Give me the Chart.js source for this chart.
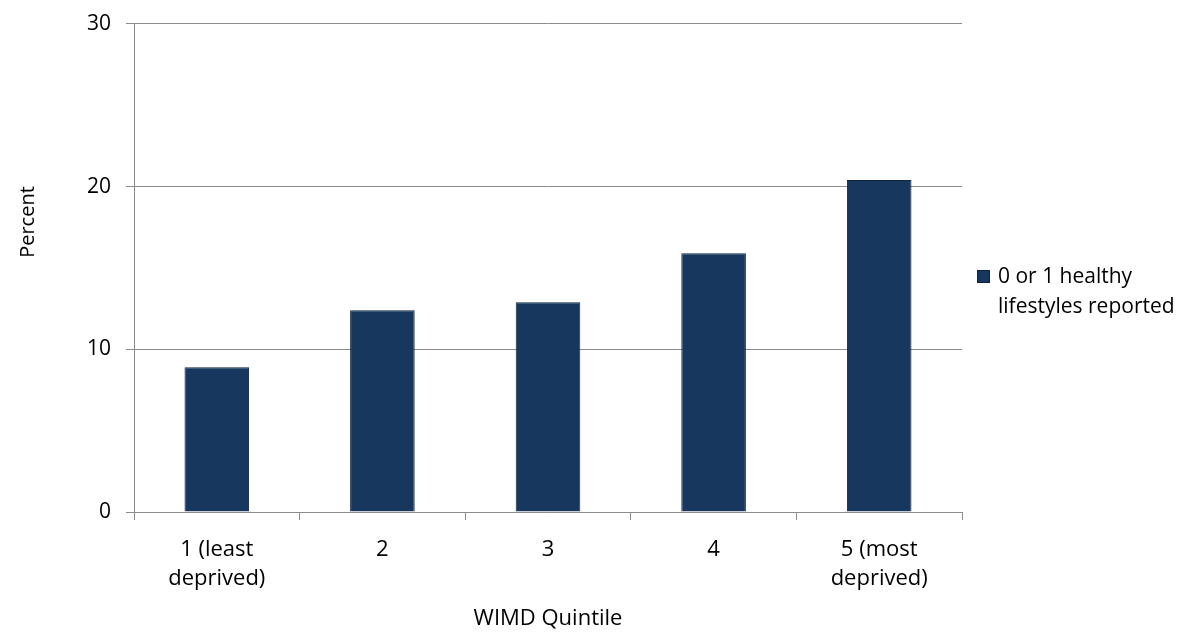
<!DOCTYPE html>
<html>
<head>
<meta charset="utf-8">
<script src="https://cdn.jsdelivr.net/npm/chart.js@4/dist/chart.umd.min.js"></script>
<style>
  html, body { margin: 0; padding: 0; background: #fff; }
  #wrap { width: 1185px; height: 632px; position: relative; }
</style>
</head>
<body>
<div id="wrap"><canvas id="c" width="1185" height="632"></canvas></div>
<script>
// Share of adults reporting 0 or 1 healthy lifestyles, by WIMD quintile
const categories = [["1 (least", "deprived)"], "2", "3", "4", ["5 (most", "deprived)"]];
const values = [8.9, 12.4, 12.9, 15.9, 20.4];
const seriesLabel = ["0 or 1 healthy", "lifestyles reported"];
const yTickValues = [0, 10, 20, 30];
const xTitle = "WIMD Quintile";
const yTitle = "Percent";

const FONT = "'Open Sans', 'DejaVu Sans', sans-serif";
const BAR = "#17375E";
const GRID = "#8c8c8c";

// Legend at the right and the rotated y-axis title, drawn on the canvas
const sideText = {
  id: "sideText",
  afterDraw(chart) {
    const { ctx, chartArea } = chart;
    ctx.save();
    // legend
    const sx = chartArea.right + 15, sy = 270;
    ctx.fillStyle = BAR;
    ctx.fillRect(sx, sy, 13, 13);
    ctx.strokeStyle = "#0e2440";
    ctx.lineWidth = 1;
    ctx.strokeRect(sx + 0.5, sy + 0.5, 12, 12);
    ctx.fillStyle = "#000";
    ctx.font = "21px " + FONT;
    ctx.textBaseline = "middle";
    ctx.textAlign = "left";
    seriesLabel.forEach((line, i) => ctx.fillText(line, sx + 21, 277 + i * 30));
    // y-axis title
    ctx.translate(28, 222);
    ctx.rotate(-Math.PI / 2);
    ctx.textAlign = "center";
    ctx.font = "20px " + FONT;
    ctx.fillText(yTitle, 0, 0);
    ctx.restore();
  }
};

new Chart(document.getElementById("c"), {
  type: "bar",
  data: {
    labels: categories,
    datasets: [{
      label: seriesLabel.join(" "),
      data: values,
      backgroundColor: BAR,
      borderColor: "#0e2440",
      borderWidth: 1,
      borderSkipped: "bottom",
      categoryPercentage: 1,
      barPercentage: 0.39
    }]
  },
  options: {
    responsive: false,
    animation: false,
    devicePixelRatio: 1,
    layout: { padding: { top: 20, right: 223, left: 0, bottom: 0 } },
    plugins: {
      legend: { display: false },
      tooltip: { enabled: false }
    },
    scales: {
      x: {
        offset: true,
        grid: {
          offset: true,
          drawOnChartArea: false,
          drawTicks: true,
          tickLength: 8,
          color: GRID,
          lineWidth: 1
        },
        border: { display: true, color: GRID, width: 1 },
        ticks: {
          color: "#000",
          font: { family: FONT, size: 22, lineHeight: 1.32 },
          padding: 15,
          maxRotation: 0,
          autoSkip: false
        },
        title: {
          display: true,
          text: xTitle,
          color: "#000",
          font: { family: FONT, size: 22 },
          padding: { top: 0, bottom: 0 }
        },
        afterFit(scale) { scale.height = 120; }
      },
      y: {
        min: 0,
        max: 30,
        afterBuildTicks(scale) { scale.ticks = yTickValues.map(v => ({ value: v })); },
        grid: {
          color: GRID,
          lineWidth: 1,
          drawTicks: true,
          tickLength: 8
        },
        border: { display: true, color: GRID, width: 1 },
        ticks: {
          color: "#000",
          font: { family: FONT, size: 21, lineHeight: 0.85 },
          padding: 15
        },
        afterFit(scale) { scale.width = 134; }
      }
    }
  },
  plugins: [sideText]
});
</script>
</body>
</html>
